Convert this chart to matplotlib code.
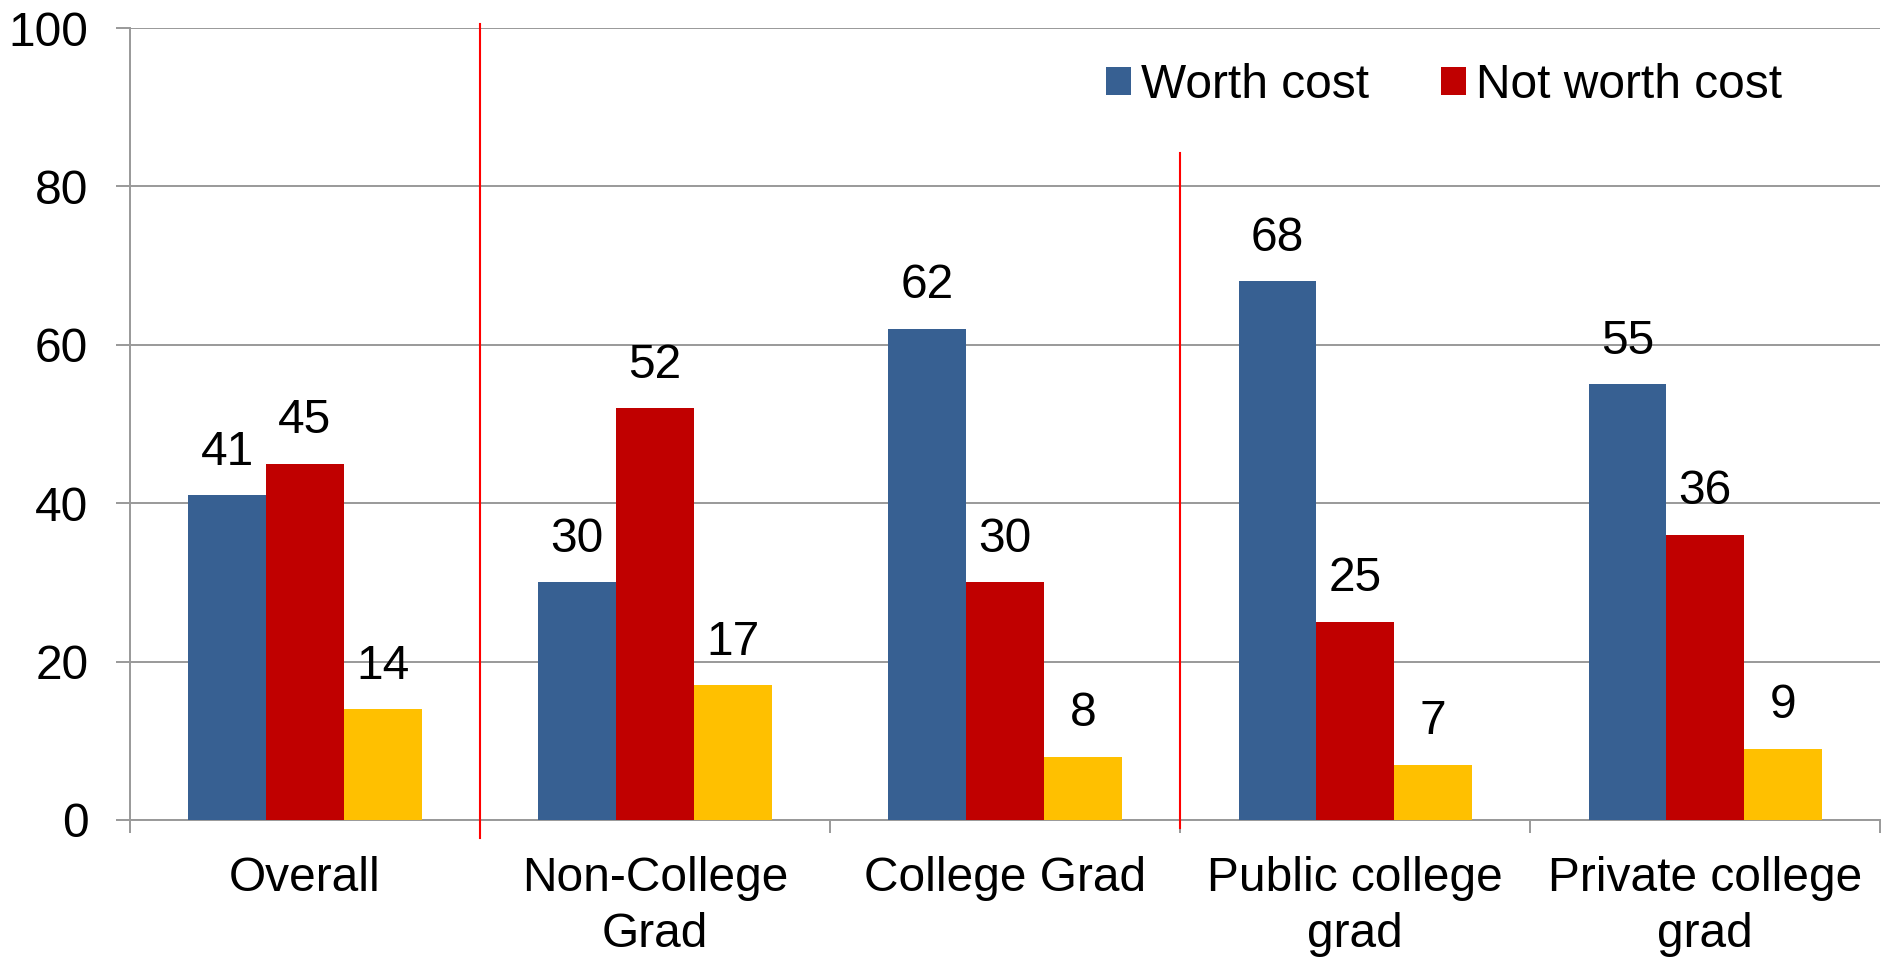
import numpy as np
import matplotlib
matplotlib.use("Agg")
import matplotlib.pyplot as plt

# --------------- data ---------------
categories = ["Overall", "Non-College\nGrad", "College Grad",
              "Public college\ngrad", "Private college\ngrad"]
worth      = [41, 30, 62, 68, 55]
not_worth  = [45, 52, 30, 25, 36]
dont_know  = [14, 17, 8, 7, 9]
series_names = ["Worth cost", "Not worth cost"]
yticks = [0, 20, 40, 60, 80, 100]
# ------------------------------------

plt.rcParams["font.family"] = ["Liberation Sans", "DejaVu Sans"]
FS = 34.5
GRID = "#999999"

fig = plt.figure(figsize=(18.86, 9.57), dpi=100)
ax = fig.add_axes([0.0689, 0.1432, 0.928, 0.8275])

x = np.arange(len(categories))
w = 0.222
series = [(worth, "#376092", series_names[0]),
          (not_worth, "#C00000", series_names[1]),
          (dont_know, "#FFC000", None)]

for i, (vals, col, name) in enumerate(series):
    bars = ax.bar(x + (i - 1) * w, vals, width=w, color=col,
                  label=name, zorder=3)
    for b, v in zip(bars, vals):
        ax.annotate(str(v), (b.get_x() + b.get_width() / 2, v),
                    xytext=(0, 22), textcoords="offset points",
                    ha="center", va="baseline", fontsize=FS)

ax.set_xlim(-0.5, len(categories) - 0.5)
ax.set_ylim(0, 100)
ax.set_yticks(yticks)
ax.tick_params(axis="y", labelsize=FS, length=10, width=1.4,
               color=GRID, pad=20)
ax.yaxis.grid(True, color=GRID, linewidth=1.4, zorder=0)

# category labels in the middle, ticks on the boundaries
ax.set_xticks(x)
ax.set_xticklabels(categories, fontsize=FS, linespacing=1.3)
ax.tick_params(axis="x", length=0, pad=26)
ax.set_xticks(np.arange(-0.5, len(categories)), minor=True)
ax.tick_params(axis="x", which="minor", length=9, width=1.4, color=GRID)

for s in ["top", "right"]:
    ax.spines[s].set_visible(False)
for s in ["left", "bottom"]:
    ax.spines[s].set_color(GRID)
    ax.spines[s].set_linewidth(1.4)

# red separators
ax.axvline(0.5, ymin=-0.023, ymax=1.005, color="red", lw=1.5,
           clip_on=False, zorder=4)
ax.axvline(2.5, ymin=-0.010, ymax=0.842, color="red", lw=1.5,
           clip_on=False, zorder=4)

ax.legend(loc="center left", bbox_to_anchor=(0.5864, 0.911),
          bbox_transform=fig.transFigure, ncol=2, frameon=False,
          fontsize=FS, handlelength=0.53, handleheight=0.53,
          handletextpad=0.2, columnspacing=1.5, borderpad=0,
          borderaxespad=0)

fig.savefig("out.png", dpi=100)
